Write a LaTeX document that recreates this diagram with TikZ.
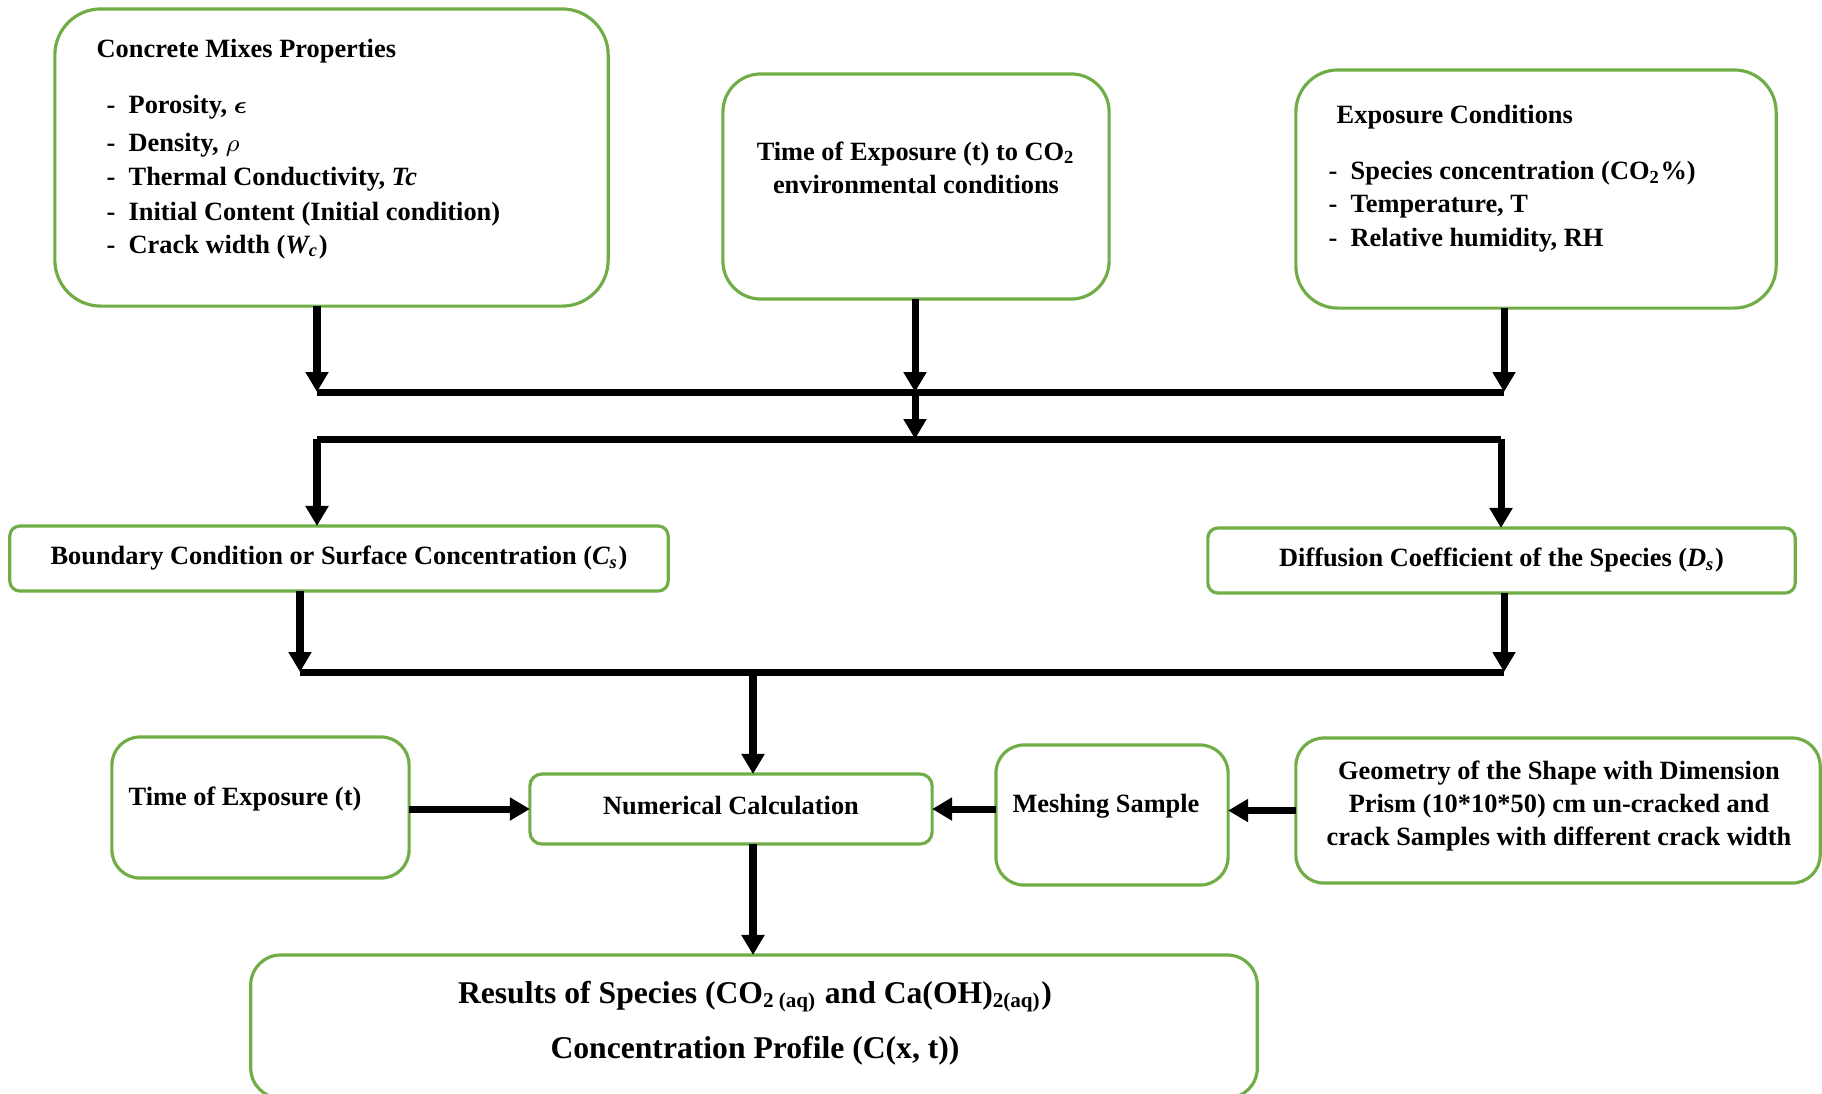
\documentclass[tikz,border=0pt]{standalone}
\usepackage{fontspec}
\setmainfont{Liberation Serif}
\usetikzlibrary{arrows.meta}
\definecolor{boxgreen}{RGB}{112,173,71}

\begin{document}
\begin{tikzpicture}[x=0.01cm,y=-0.01cm,
    box/.style={draw=boxgreen,line width=0.9pt,inner sep=0pt,outer sep=0pt},
    txt/.style={font=\fontsize{7.5}{9.4}\selectfont\bfseries,inner sep=0pt},
    wire/.style={line width=2pt},
    arr/.style={wire,-{Triangle[length=0.2cm,width=0.22cm]}}]
  \useasboundingbox (0,0) rectangle (1822,1093);

  % top row
  \node[box,rounded corners=0.46cm,minimum width=5.53cm,minimum height=2.97cm] (mix) at (331.5,157.5) {};
  \node[box,rounded corners=0.38cm,minimum width=3.86cm,minimum height=2.25cm] (expo) at (916,186.5) {};
  \node[box,rounded corners=0.42cm,minimum width=4.80cm,minimum height=2.38cm] (cond) at (1536,189) {};

  \node[txt,anchor=west] (mixT) at (96,51) {Concrete Mixes Properties};
  \foreach \y/\t [count=\i] in {107/{Porosity, {\boldmath$\epsilon$}},145/{Density, $\rho$},
      179/{Thermal Conductivity, \textit{Tc}},214/{Initial Content (Initial condition)},
      247/{Crack width (\textit{W\textsubscript{c}})}}
    \node[txt,anchor=west] (mix\i) at (106,\y) {-~~\t};
  \node[txt,align=center] (expoT) at (916,167.5) {Time of Exposure (t) to CO\textsubscript{2}\\environmental conditions};
  \node[txt,anchor=west] (condT) at (1336,117) {Exposure Conditions};
  \foreach \y/\t [count=\i] in {173/{Species concentration (CO\textsubscript{2}\%)},
      207/{Temperature, T},240/{Relative humidity, RH}}
    \node[txt,anchor=west] (cond\i) at (1328,\y) {-~~\t};

  % bus lines
  \coordinate (b1l) at (317,392);
  \coordinate (b1m) at (915,392);
  \coordinate (b1r) at (1504,392);
  \coordinate (b2l) at (317,439);
  \coordinate (b2m) at (915,439);
  \coordinate (b2r) at (1501,439);
  \coordinate (b3l) at (300,672);
  \coordinate (b3m) at (753,672);
  \coordinate (b3r) at (1504,672);

  % middle row
  \node[box,txt,rounded corners=0.1cm,minimum width=6.58cm,minimum height=0.65cm] (bound) at (339,558.5)
    {Boundary Condition or Surface Concentration (\textit{C\textsubscript{s}})};
  \node[box,txt,rounded corners=0.1cm,minimum width=5.87cm,minimum height=0.65cm] (diff) at (1501.5,560.5)
    {Diffusion Coefficient of the Species (\textit{D\textsubscript{s}})};

  % calculation row
  \node[box,rounded corners=0.28cm,minimum width=2.97cm,minimum height=1.41cm] (timet) at (260.5,807.5) {};
  \node[txt] (timetT) at (245,799) {Time of Exposure (t)};
  \node[box,rounded corners=0.12cm,minimum width=4.02cm,minimum height=0.70cm] (num) at (731,809) {};
  \node[txt] (numT) at (731,805) {Numerical Calculation};
  \node[box,rounded corners=0.28cm,minimum width=2.32cm,minimum height=1.40cm] (mesh) at (1112,815) {};
  \node[txt] (meshT) at (1106,806) {Meshing Sample};
  \node[box,rounded corners=0.28cm,minimum width=5.24cm,minimum height=1.45cm] (geom) at (1558,810.5) {};
  \node[txt,align=center] (geomT) at (1559,806) {Geometry of the Shape with Dimension\\Prism (10*10*50) cm un-cracked and\\crack Samples with different crack width};

  % results
  \node[box,rounded corners=0.3cm,minimum width=10.06cm,minimum height=1.43cm] (res) at (754,1026.5) {};
  \node[txt,align=center,font=\fontsize{9}{15.6}\selectfont\bfseries] (resT) at (755,1023)
    {Results of Species (CO\textsubscript{2 (aq)} and Ca(OH)\textsubscript{2(aq)})\\Concentration Profile (C(x, t))};

  % connectors
  \draw[arr] (mix.south -| b1l) -- (b1l);
  \draw[arr] (expo.south -| b1m) -- (b1m);
  \draw[arr] (cond.south -| b1r) -- (b1r);
  \draw[wire] (b1l) -- (b1r);
  \draw[arr] (b1m) -- (b2m);
  \draw[wire] (b2l) -- (b2r);
  \draw[arr] (b2l) -- (bound.north -| b2l);
  \draw[arr] (b2r) -- (diff.north -| b2r);
  \draw[arr] (bound.south -| b3l) -- (b3l);
  \draw[arr] (diff.south -| b3r) -- (b3r);
  \draw[wire] (b3l) -- (b3r);
  \draw[arr] (b3m) -- (num.north -| b3m);
  \draw[arr] (timet.east |- num.west) -- (num.west);
  \draw[arr] (mesh.west |- num.east) -- (num.east);
  \draw[arr] (geom.west) -- (mesh.east |- geom.west);
  \draw[arr] (num.south -| b3m) -- (res.north -| b3m);
\end{tikzpicture}
\end{document}
